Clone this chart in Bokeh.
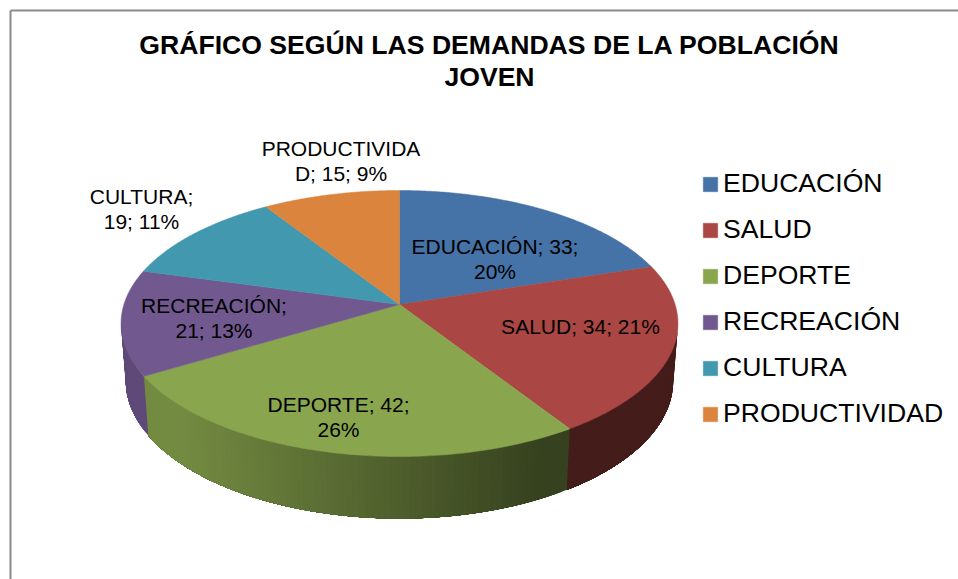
import numpy as np
from bokeh.plotting import figure
from bokeh.models import Range1d, Legend, LegendItem
from bokeh.core.properties import value
from bokeh.embed import file_html
from bokeh.resources import INLINE

title_lines = ["GRÁFICO SEGÚN LAS DEMANDAS DE LA POBLACIÓN", "JOVEN"]
categories = ["EDUCACIÓN", "SALUD", "DEPORTE", "RECREACIÓN", "CULTURA", "PRODUCTIVIDAD"]
values = [33, 34, 42, 21, 19, 15]
colors = ["#4572a7", "#aa4643", "#89a54e", "#71588f", "#4198af", "#db843d"]
label_lines = [
    ["EDUCACIÓN; 33;", "20%"],
    ["SALUD; 34; 21%"],
    ["DEPORTE; 42;", "26%"],
    ["RECREACIÓN;", "21; 13%"],
    ["CULTURA;", "19; 11%"],
    ["PRODUCTIVIDA", "D; 15; 9%"],
]
label_x = [494.5, 580, 338, 213.5, 141, 340.5]
label_y = [254, 334, 412, 313.5, 204, 156]

FONT = "Liberation Sans"
LABEL_PX = 21
TITLE_PX = 26.6
W, H = 958, 579
p = figure(width=W, height=H, output_backend="svg", toolbar_location=None,
           x_range=Range1d(0, W), y_range=Range1d(H, 0),
           x_axis_location=None, y_axis_location=None, min_border=0,
           outline_line_color=None, background_fill_color="white",
           border_fill_color="white")
p.grid.visible = False

# chart frame
p.multi_line([[10, 10], [10, W]], [[H, 10], [10, 10]], line_color="#8a8a8a", line_width=2)

# perspective projection of the pie disc
CX, CY, A, B, K = 399.0, 304.0, 275.6, 130.3, 0.1429
DX, SY, BOT_Y = 0.983, 1.035, 360.7


def top(t):
    d = 1 + K * np.cos(t)
    return CX + A * np.sin(t) / d, CY - B * np.cos(t) / d


def bottom(t):
    x, y = top(t)
    return CX + (x - CX) * DX, BOT_Y + (y - CY) * SY


def shade(hex_color, f):
    r, g, b = (int(hex_color[i:i + 2], 16) for i in (1, 3, 5))
    return "#%02x%02x%02x" % (int(r * f), int(g * f), int(b * f))


total = sum(values)
edges = 2 * np.pi * np.concatenate([[0], np.cumsum(values)]) / total
LEFT_LIM = np.arccos(-K)
RIGHT_LIM = 2 * np.pi - LEFT_LIM

# side wall: each band runs on under the next one, so no seams show
for i, c in enumerate(colors):
    a, b = max(edges[i], LEFT_LIM), min(edges[i + 1], RIGHT_LIM)
    if b <= a:
        continue
    n = max(2, int((b - a) * 50))
    ts = np.linspace(a, b, n + 1)
    xs, ys, fills = [], [], []
    for t0, t1 in zip(ts[:-1], ts[1:]):
        tt = np.linspace(t0, b, max(3, int((b - t0) * 40)))
        x1, y1 = top(tt)
        x2, y2 = bottom(tt[::-1])
        xs.append(np.concatenate([x1, x2]).tolist())
        ys.append(np.concatenate([y1, y2]).tolist())
        xm = top((t0 + t1) / 2)[0]
        fills.append(shade(c, float(np.clip(0.88 - (xm - 150) / 390 * 0.48, 0.40, 0.84))))
    p.patches(xs, ys, fill_color=fills, line_color=None)

# top face
renderers = []
for i, c in enumerate(colors):
    ts = np.linspace(edges[i], edges[i + 1], 120)
    x, y = top(ts)
    r = p.patch(np.concatenate([[CX], x]), np.concatenate([[CY], y]), fill_color=c, line_color=c, line_width=0.5)
    renderers.append(r)

# data labels (the renderer sets alphabetic text about 0.4 em below the given y)
tx, ty, tt = [], [], []
for lines, x0, y0 in zip(label_lines, label_x, label_y):
    for j, s in enumerate(lines):
        tx.append(x0)
        ty.append(y0 + j * 25.3 - 0.4 * LABEL_PX)
        tt.append(s)
p.text(tx, ty, text=tt, text_font=value(FONT), text_font_size=f"{LABEL_PX}px", text_color="#000000",
       text_align="center", text_baseline="alphabetic")

# title
title_y = [55 - 0.4 * TITLE_PX, 87 - 0.4 * TITLE_PX]
p.text([489, 489], title_y, text=title_lines, text_font=value(FONT), text_font_size=f"{TITLE_PX}px",
       text_font_style="bold", text_color="#000000", text_align="center", text_baseline="alphabetic")

legend = Legend(items=[LegendItem(label=c, renderers=[r]) for c, r in zip(categories, renderers)],
                location=(701, H - 429), orientation="vertical",
                glyph_width=18, glyph_height=18, label_standoff=4, spacing=15,
                label_text_font=FONT, label_text_font_size="26.6px", label_text_color="#000000",
                label_height=14, padding=0, margin=0,
                border_line_color=None, background_fill_alpha=0)
p.add_layout(legend)

open("out.html", "w").write(file_html(p, INLINE))
